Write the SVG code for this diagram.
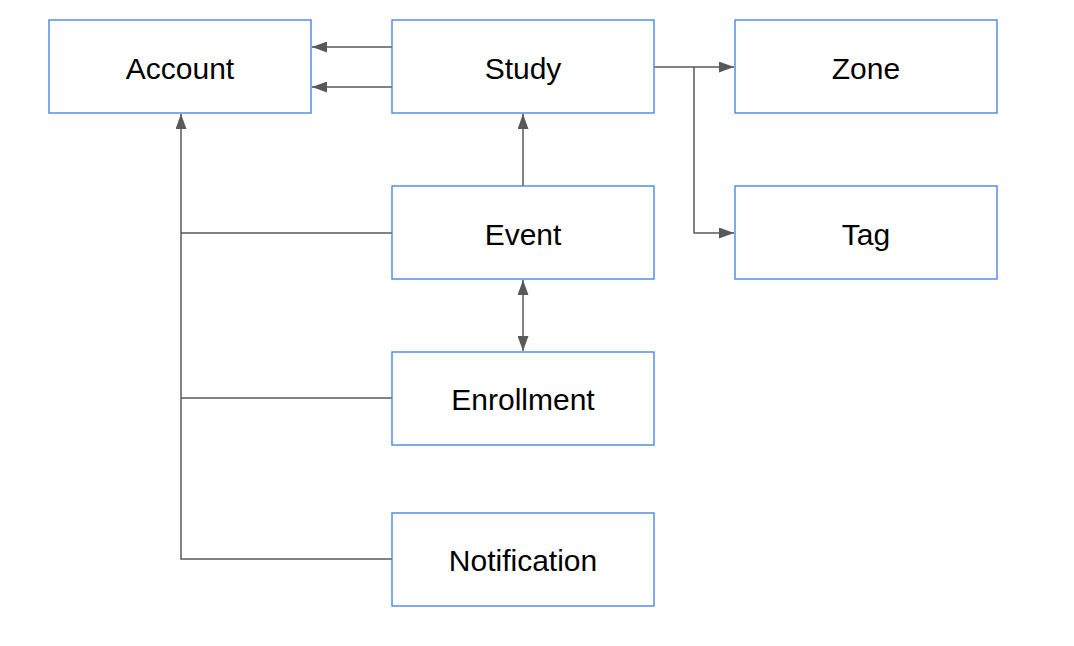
<svg xmlns="http://www.w3.org/2000/svg" width="1074" height="646" viewBox="0 0 1074 646">
<style>
.box{fill:#fff;stroke:#4a86e8;stroke-width:1.4}
.lbl{font-family:"Liberation Sans",Arial,sans-serif;font-size:30px;fill:#000;text-anchor:middle}
.c{fill:none;stroke:#595959;stroke-width:1.5}
</style>
<defs>
<marker id="ah" viewBox="0 0 15 11" refX="15" refY="5.5" markerWidth="15" markerHeight="11" markerUnits="userSpaceOnUse" orient="auto-start-reverse">
<path d="M0,0 L15,5.5 L0,11 Z" fill="#595959"/>
</marker>
</defs>
<rect width="1074" height="646" fill="#fff"/>
<g id="connectors">
<path class="c" d="M392,47 H312" marker-end="url(#ah)"/>
<path class="c" d="M392,87 H312" marker-end="url(#ah)"/>
<path class="c" d="M654,67 H734" marker-end="url(#ah)"/>
<path class="c" d="M694,67 V233 H734" marker-end="url(#ah)"/>
<path class="c" d="M523,186 V114" marker-end="url(#ah)"/>
<path class="c" d="M523,280 V351" marker-start="url(#ah)" marker-end="url(#ah)"/>
<path class="c" d="M392,559 H181 V114" marker-end="url(#ah)"/>
<path class="c" d="M392,233 H181"/>
<path class="c" d="M392,398 H181"/>
</g>
<g id="account"><rect class="box" x="49" y="20" width="262" height="93"/><text class="lbl" x="180" y="79">Account</text></g>
<g id="study"><rect class="box" x="392" y="20" width="262" height="93"/><text class="lbl" x="523" y="79">Study</text></g>
<g id="zone"><rect class="box" x="735" y="20" width="262" height="93"/><text class="lbl" x="866" y="79">Zone</text></g>
<g id="event"><rect class="box" x="392" y="186" width="262" height="93"/><text class="lbl" x="523" y="245">Event</text></g>
<g id="tag"><rect class="box" x="735" y="186" width="262" height="93"/><text class="lbl" x="866" y="245">Tag</text></g>
<g id="enrollment"><rect class="box" x="392" y="352" width="262" height="93"/><text class="lbl" x="523" y="410">Enrollment</text></g>
<g id="notification"><rect class="box" x="392" y="513" width="262" height="93"/><text class="lbl" x="523" y="571">Notification</text></g>
</svg>
